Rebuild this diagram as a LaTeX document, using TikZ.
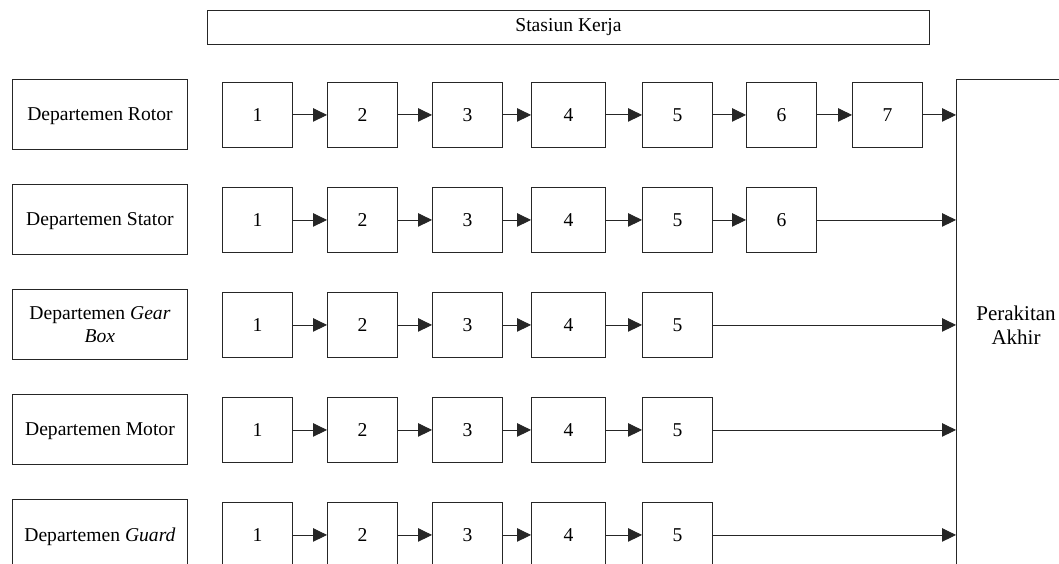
\documentclass[tikz,border=0pt]{standalone}
\usepackage{fontspec}
\setmainfont{Liberation Serif}
\usetikzlibrary{arrows.meta}
\begin{document}
\begin{tikzpicture}[x=1pt,y=-1pt,
  box/.style={draw=black!85,line width=0.9pt,inner sep=0pt,anchor=north west,
    font=\fontsize{19.6}{23.5}\selectfont,align=center},
  numbox/.style={box,minimum height=65pt},
  deptbox/.style={box,minimum width=175pt,minimum height=70pt},
  oneline/.style={text depth=0.5pt},
  arr/.style={draw=black!85,line width=0.9pt,-{Triangle[length=14pt,width=13.5pt]}}]
\useasboundingbox (0,0) rectangle (1059,564);
\clip (0,0) rectangle (1059,564);
\fill[white] (0,0) rectangle (1059,564);
\node[box,minimum width=722pt,minimum height=34pt] (top) at (207,10) {Stasiun Kerja};
\node[deptbox,oneline] (d1) at (12,79) {Departemen Rotor};
\node[deptbox,oneline] (d2) at (12,184) {Departemen Stator};
\node[deptbox] (d3) at (12,289) {Departemen \textit{Gear}\\\textit{Box}};
\node[deptbox,oneline] (d4) at (12,394) {Departemen Motor};
\node[deptbox,oneline] (d5) at (12,499) {Departemen \textit{Guard}};
\node[draw=black!85,line width=0.9pt,inner sep=0pt,anchor=north west,minimum width=200pt,minimum height=600pt] (fin) at (956,79.3) {};
\node[font=\fontsize{21}{24}\selectfont,align=center,inner sep=0pt] (finlbl) at (1016,325) {Perakitan\\Akhir};
\foreach \r/\cnt in {1/7,2/6,3/5,4/5,5/5} {
  \foreach \i/\x/\w in {1/222/70,2/327/70,3/432/70,4/531/74,5/642/70,6/746/70,7/852/70} {
    \ifnum\i>\cnt\relax\else
      \node[numbox,minimum width=\w pt] (n\r-\i) at (\x,{82+105*(\r-1)}) {\i};
    \fi
  }
}
\foreach \r/\cnt in {1/7,2/6,3/5,4/5,5/5} {
  \pgfmathtruncatemacro\last{\cnt-1}
  \foreach \i in {1,...,\last} {
    \pgfmathtruncatemacro\j{\i+1}
    \draw[arr] (n\r-\i.east) -- (n\r-\j.west);
  }
  \draw[arr] (n\r-\cnt.east) -- (n\r-\cnt.east -| fin.west);
}
\end{tikzpicture}
\end{document}
